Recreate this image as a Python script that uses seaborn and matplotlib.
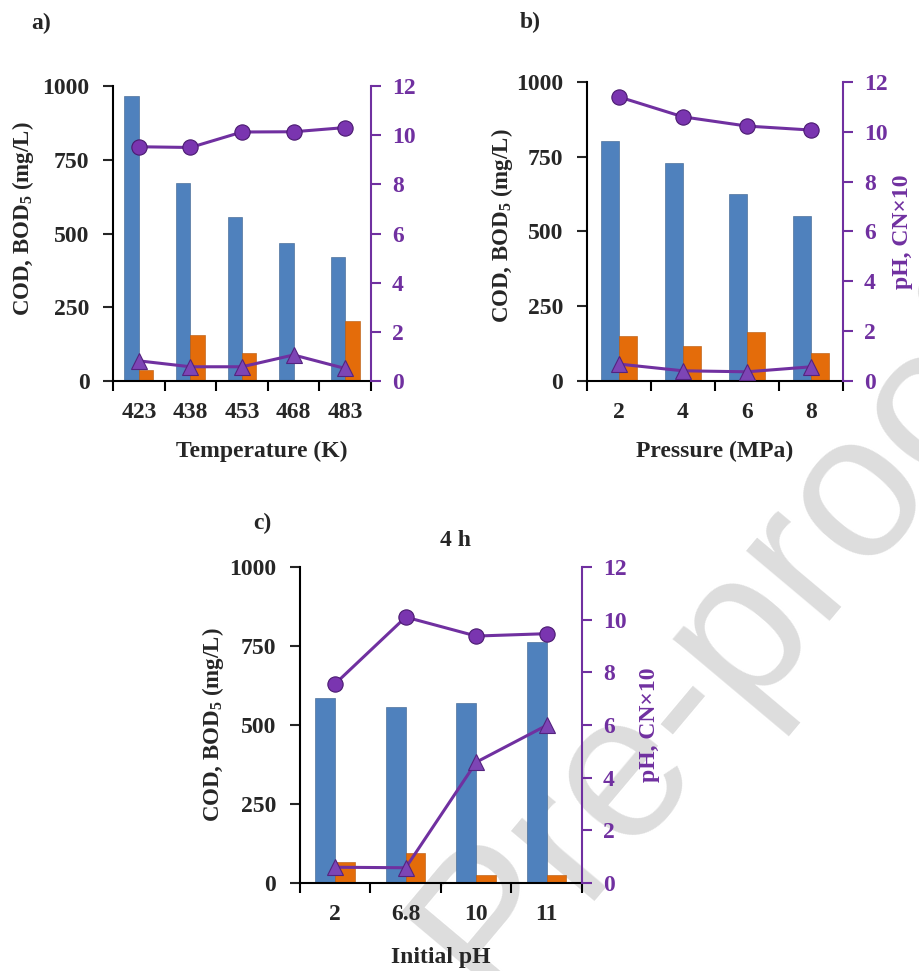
import numpy as np
import pandas as pd
import seaborn as sns
import matplotlib.pyplot as plt

# ---- data ----
temp_labels = ['423', '438', '453', '468', '483']
temp_cod = [966, 671, 555, 468, 421]
temp_bod = [37, 156, 94, 4, 204]
temp_ph = [9.53, 9.5, 10.13, 10.14, 10.31]
temp_cn = [0.82, 0.58, 0.58, 1.06, 0.51]

pres_labels = ['2', '4', '6', '8']
pres_cod = [803, 730, 627, 553]
pres_bod = [150, 117, 163, 95]
pres_ph = [11.4, 10.6, 10.23, 10.07]
pres_cn = [0.68, 0.41, 0.37, 0.57]

iph_labels = ['2', '6.8', '10', '11']
iph_cod = [586, 557, 571, 763]
iph_bod = [66, 96, 26, 24]
iph_ph = [7.57, 10.1, 9.38, 9.47]
iph_cn = [0.6, 0.58, 4.59, 5.99]

# ---- style ----
sns.set_theme(style='white')
plt.rcParams['font.family'] = ['Liberation Serif', 'DejaVu Serif']
plt.rcParams['font.weight'] = 'bold'
plt.rcParams['mathtext.fontset'] = 'custom'
plt.rcParams['mathtext.bf'] = 'Liberation Serif:bold'
plt.rcParams['mathtext.rm'] = 'Liberation Serif:bold'
plt.rcParams['mathtext.default'] = 'bf'

BLUE = '#4F81BD'
ORANGE = '#E46C0A'
PURPLE = '#7030A0'
FS = 17

fig = plt.figure(figsize=(9.19, 9.71), dpi=100)

# watermark, behind everything
fig.text(0.791, 0.340, 'Pre-proof', rotation=50, fontsize=148,
         family='Liberation Sans', fontweight='normal', color='#dddddd',
         ha='center', va='center', rotation_mode='anchor', zorder=-5)


def draw_panel(rect, labels, cod, bod, ph, cn, xlabel, xlab_x, ylab_x, ylab_y,
               rlab_x=None):
    ax = fig.add_axes(rect)
    ax.patch.set_alpha(0)
    n = len(labels)
    df = pd.DataFrame({
        'cat': labels * 2,
        'val': list(cod) + list(bod),
        'series': ['COD'] * n + ['BOD5'] * n,
    })
    sns.barplot(data=df, x='cat', y='val', hue='series', order=labels,
                hue_order=['COD', 'BOD5'], palette=[BLUE, ORANGE],
                width=0.56, gap=0, legend=False, ax=ax,
                edgecolor='#3a5f8c', linewidth=0.4, saturation=1)
    for p in ax.patches[n:]:
        p.set_edgecolor('#b5560a')
    ax.set_ylim(0, 1000)
    ax.set_yticks([0, 250, 500, 750, 1000])
    ax.set_xticks(range(n))
    ax.set_xticklabels(labels)
    ax.set_xticks(np.arange(-0.5, n, 1), minor=True)
    ax.tick_params(axis='x', which='major', length=0, pad=15, labelsize=FS)
    ax.tick_params(axis='x', which='minor', length=7, width=1.5,
                   direction='out', color='black', bottom=True)
    ax.tick_params(axis='y', length=7, width=1.5, direction='out',
                   left=True, pad=10, labelsize=FS)
    for s in ['top', 'right']:
        ax.spines[s].set_visible(False)
    for s in ['left', 'bottom']:
        ax.spines[s].set_color('black')
        ax.spines[s].set_linewidth(1.5)
    ax.set_xlabel(xlabel, fontsize=FS, fontweight='bold', va='center')
    ax.xaxis.set_label_coords(xlab_x, -0.237)
    ax.set_ylabel('COD, BOD$_5$ (mg/L)', fontsize=FS - 0.5,
                  fontweight='bold', va='center')
    ax.yaxis.set_label_coords(ylab_x, ylab_y)

    ax2 = ax.twinx()
    x = np.arange(n)
    sns.lineplot(x=x, y=ph, ax=ax2, color=PURPLE, lw=2.2, marker='o',
                 markersize=11, markerfacecolor='#7a35b0',
                 markeredgecolor='#4a1a70', markeredgewidth=0.8)
    sns.lineplot(x=x, y=cn, ax=ax2, color=PURPLE, lw=2.2, marker='^',
                 markersize=11, markerfacecolor='#7d45b5',
                 markeredgecolor='#55237f', markeredgewidth=0.8)
    ax2.set_ylim(0, 12)
    ax2.set_yticks(range(0, 13, 2))
    ax2.set_xlim(-0.5, n - 0.5)
    ax.set_xlim(-0.5, n - 0.5)
    ax2.tick_params(axis='y', length=7, width=1.5, direction='out',
                    right=True, colors=PURPLE, pad=8, labelsize=FS)
    for lab in ax2.get_yticklabels():
        lab.set_fontweight('bold')
    for s in ['top', 'left', 'bottom']:
        ax2.spines[s].set_visible(False)
    ax2.spines['right'].set_color(PURPLE)
    ax2.spines['right'].set_linewidth(1.5)
    ax2.set_ylabel('')
    if rlab_x is not None:
        ax2.set_ylabel('pH, CN×10', color=PURPLE, fontsize=FS,
                       fontweight='bold', va='center', rotation=90)
        ax2.yaxis.set_label_coords(rlab_x, 0.5)
    return ax, ax2


# panel a
draw_panel([0.123, 0.6076, 0.2807, 0.3038], temp_labels, temp_cod, temp_bod,
           temp_ph, temp_cn, 'Temperature (K)', 0.578, -0.35, 0.55)
# panel b
draw_panel([0.6387, 0.6076, 0.2786, 0.308], pres_labels, pres_cod, pres_bod,
           pres_ph, pres_cn, 'Pressure (MPa)', 0.5, -0.33, 0.52, rlab_x=1.234)
# panel c
axc, axc2 = draw_panel([0.3264, 0.0906, 0.3069, 0.3254], iph_labels, iph_cod,
                       iph_bod, iph_ph, iph_cn, 'Initial pH', 0.5, -0.31, 0.5,
                       rlab_x=1.241)
axc.text(0.553, 1.085, '4 h', transform=axc.transAxes, ha='center',
         va='center', fontsize=FS, fontweight='bold')

fig.text(41 / 919, 1 - 23 / 971, 'a)', fontsize=FS, fontweight='bold',
         ha='center', va='center')
fig.text(530 / 919, 1 - 22 / 971, 'b)', fontsize=FS, fontweight='bold',
         ha='center', va='center')
fig.text(262 / 919, 1 - 523 / 971, 'c)', fontsize=FS, fontweight='bold',
         ha='center', va='center')

fig.savefig('out.png', dpi=100)
